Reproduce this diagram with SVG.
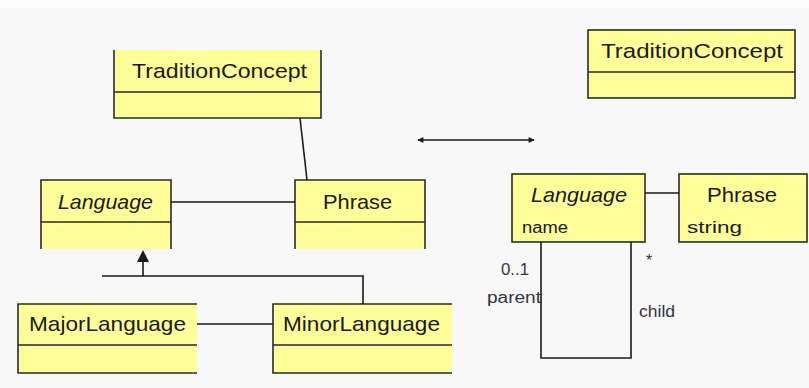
<svg xmlns="http://www.w3.org/2000/svg" width="809" height="388" viewBox="0 0 809 388">
<style>
.box{fill:#ffff99;stroke:#2a2a2a;stroke-width:1.6}
.edge{fill:none;stroke:#2a2a2a;stroke-width:1.6}
.fill{fill:#ffff99;stroke:none}
.t{font-family:"Liberation Sans",Arial,sans-serif;font-size:21px;fill:#1a1a1a}
.i{font-style:italic}
.s{font-family:"Liberation Sans",Arial,sans-serif;font-size:16px;fill:#1a1a1a}
.l{font-family:"Liberation Sans",Arial,sans-serif;font-size:16px;fill:#333344}
.c{fill:none;stroke:#1a1a1a;stroke-width:1.6}
</style>
<defs>
<marker id="ah" viewBox="0 0 10 10" refX="9" refY="5" markerWidth="8" markerHeight="6" orient="auto-start-reverse" markerUnits="userSpaceOnUse">
<path d="M0,0 L10,5 L0,10 z" fill="#1a1a1a"/>
</marker>
</defs>
<rect width="809" height="388" fill="#f8f8f8"/>
<rect width="809" height="8" fill="#fdfdfd"/>

<g id="left-tradition-concept">
<rect class="fill" x="114" y="50" width="207" height="68"/>
<path class="edge" d="M114,50 V118 H321 V50 M114,92 H321"/>
<text class="t" x="132" y="78" textLength="175" lengthAdjust="spacingAndGlyphs">TraditionConcept</text>
</g>
<g id="left-language">
<rect class="fill" x="41" y="180" width="130" height="69"/>
<path class="edge" d="M41,249 V180 H171 V249 M41,222 H171"/>
<text class="t i" x="58" y="209" textLength="95" lengthAdjust="spacingAndGlyphs">Language</text>
</g>
<g id="left-phrase">
<rect class="fill" x="295" y="180" width="130" height="69"/>
<path class="edge" d="M295,249 V180 H425 V249 M295,222 H425"/>
<text class="t" x="323" y="209" textLength="69" lengthAdjust="spacingAndGlyphs">Phrase</text>
</g>
<g id="major-language">
<rect class="fill" x="18" y="304" width="179" height="69"/>
<path class="edge" d="M197,304 H18 V373 H197 M18,345 H197"/>
<text class="t" x="29" y="331" textLength="157" lengthAdjust="spacingAndGlyphs">MajorLanguage</text>
</g>
<g id="minor-language">
<rect class="fill" x="273" y="304" width="179" height="69"/>
<path class="edge" d="M452,304 H273 V373 H452 M273,345 H452"/>
<text class="t" x="283" y="331" textLength="157" lengthAdjust="spacingAndGlyphs">MinorLanguage</text>
</g>
<g id="right-tradition-concept">
<rect class="box" x="588" y="30" width="207" height="68"/>
<line class="edge" x1="588" y1="72" x2="795" y2="72"/>
<text class="t" x="601" y="58" textLength="182" lengthAdjust="spacingAndGlyphs">TraditionConcept</text>
</g>
<g id="right-language">
<rect class="box" x="512" y="174" width="133" height="68"/>
<text class="t i" x="531" y="202" textLength="96" lengthAdjust="spacingAndGlyphs">Language</text>
<text class="s" x="522" y="233" textLength="46" lengthAdjust="spacingAndGlyphs">name</text>
</g>
<g id="right-phrase">
<rect class="box" x="679" y="174" width="128" height="68"/>
<text class="t" x="707" y="202" textLength="70" lengthAdjust="spacingAndGlyphs">Phrase</text>
<text class="s" x="687" y="233" textLength="55" lengthAdjust="spacingAndGlyphs">string</text>
</g>

<g id="connectors">
<line class="c" x1="300" y1="118" x2="307" y2="180"/>
<line class="c" x1="171" y1="202" x2="295" y2="202"/>
<path class="c" d="M102,276 H363 V304 M143,276 V261"/>
<path d="M143,250 L137,262 L149,262 z" fill="#1a1a1a"/>
<line class="c" x1="197" y1="324" x2="273" y2="324"/>
<line class="c" x1="418" y1="140" x2="534" y2="140" marker-start="url(#ah)" marker-end="url(#ah)"/>
<line class="c" x1="645" y1="193" x2="679" y2="193"/>
<path class="c" d="M541,242 V358 H631 V242"/>
<text class="l" x="501" y="275" textLength="28" lengthAdjust="spacingAndGlyphs">0..1</text>
<text class="l" x="487" y="303" textLength="54" lengthAdjust="spacingAndGlyphs">parent</text>
<text class="l" x="646" y="266" font-size="12">*</text>
<text class="l" x="639" y="317" textLength="36" lengthAdjust="spacingAndGlyphs">child</text>
</g>
</svg>
